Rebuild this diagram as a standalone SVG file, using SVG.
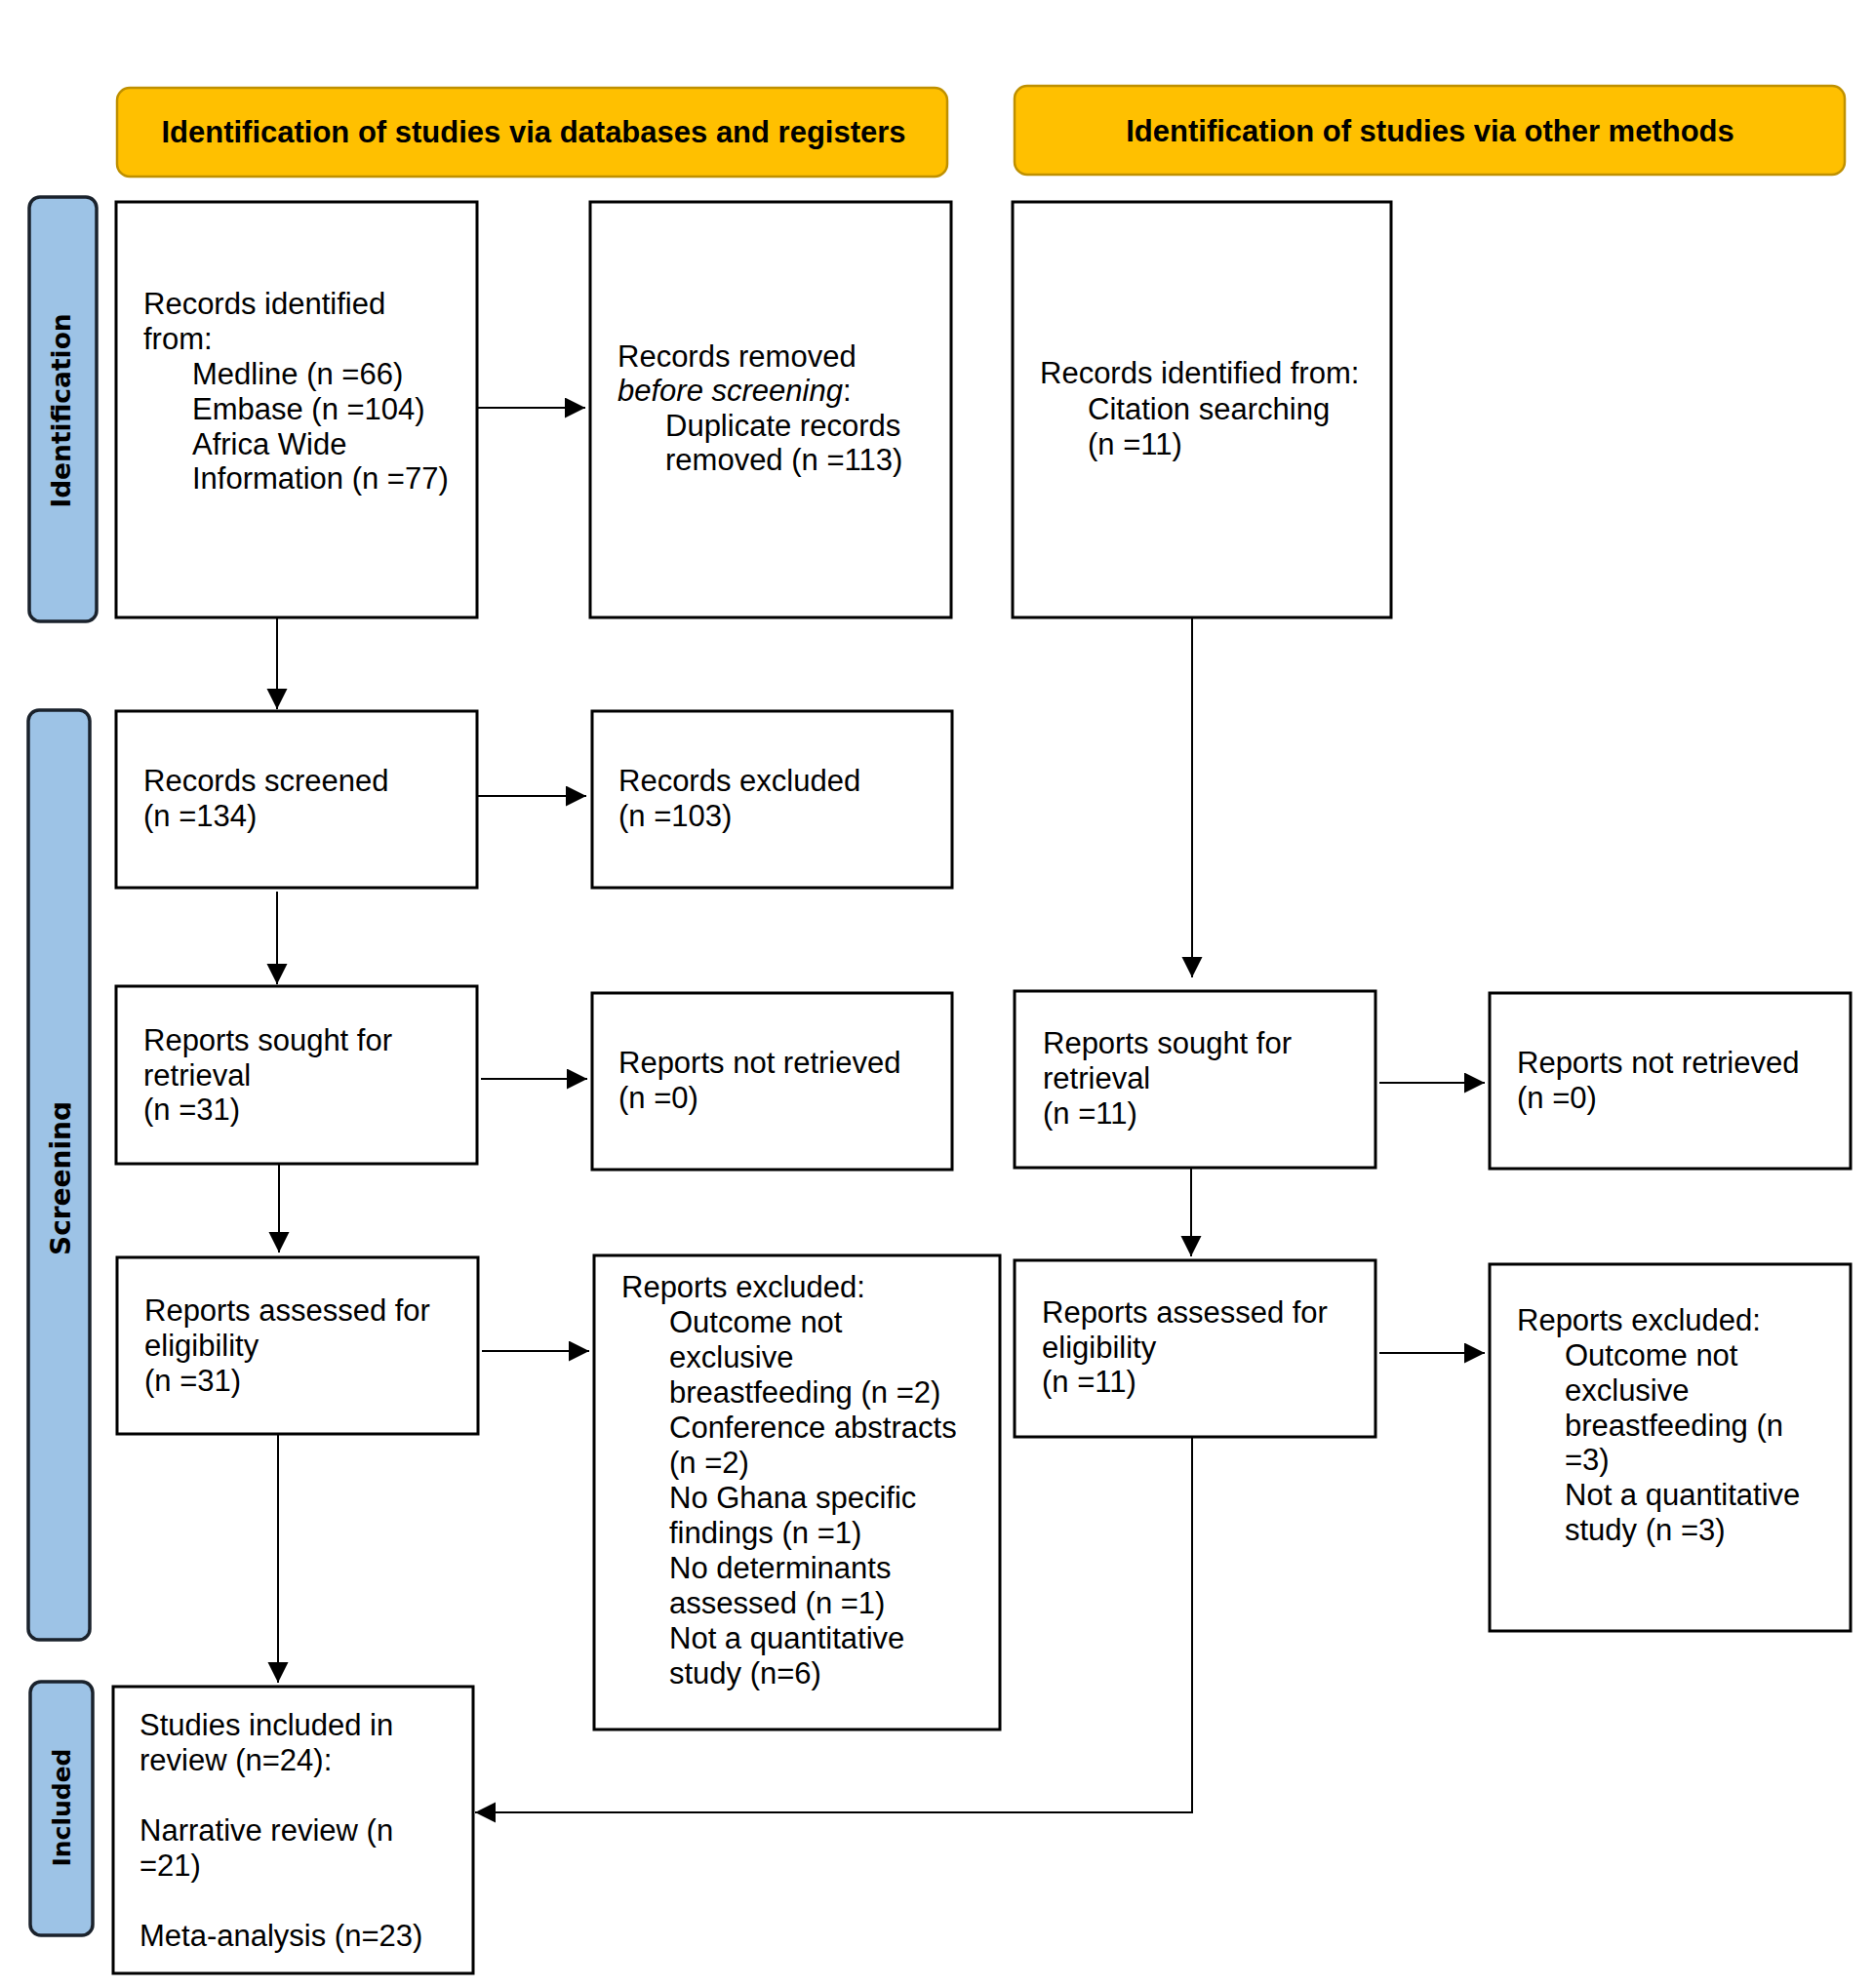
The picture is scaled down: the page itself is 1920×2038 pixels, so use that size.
<svg xmlns="http://www.w3.org/2000/svg" width="1920" height="2038" viewBox="0 0 1920 2038">
<defs>
<style>
.hdr{fill:#FFC000;stroke:#BF9000;stroke-width:2.5}
.hdrt{font-family:"Liberation Sans",Arial,sans-serif;font-weight:bold;font-size:31px;fill:#000;text-anchor:middle}
.side{fill:#9DC3E6;stroke:#1A222C;stroke-width:3.5}
.sidet{font-family:"DejaVu Sans",Verdana,sans-serif;font-weight:bold;font-size:28px;fill:#000;text-anchor:middle}
.box{fill:#fff;stroke:#000;stroke-width:3}
.t{font-family:"Liberation Sans",Arial,sans-serif;font-size:31px;fill:#000}
.con{fill:none;stroke:#000;stroke-width:2}
</style>
<marker id="ah" markerUnits="userSpaceOnUse" markerWidth="22" markerHeight="22" refX="21" refY="10.5" orient="auto">
<path d="M0,0 L21,10.5 L0,21 Z" fill="#000"/>
</marker>
<clipPath id="clipScr"><rect x="0" y="700" width="72.5" height="1000"/></clipPath>
</defs>
<rect width="1920" height="2038" fill="#fff"/>

<g id="header-databases">
<rect class="hdr" x="120" y="90" width="851" height="91" rx="13"/>
<text class="hdrt" x="547" y="146">Identification of studies via databases and registers</text>
</g>
<g id="header-other">
<rect class="hdr" x="1040" y="88" width="851" height="91" rx="13"/>
<text class="hdrt" x="1466" y="145">Identification of studies via other methods</text>
</g>

<g id="label-identification">
<rect class="side" x="30" y="202" width="69" height="435" rx="11"/>
<text class="sidet" style="font-size:26.5px" transform="translate(72,421) rotate(-90)">Identification</text>
</g>
<g id="label-screening">
<rect class="side" x="29" y="728" width="63" height="953" rx="11"/>
<g clip-path="url(#clipScr)"><text class="sidet" transform="translate(72,1208) rotate(-90)">Screening</text></g>
</g>
<g id="label-included">
<rect class="side" x="31" y="1724" width="64" height="260" rx="11"/>
<text class="sidet" style="font-size:25px" transform="translate(72,1853) rotate(-90)">Included</text>
</g>

<g id="records-identified">
<rect class="box" x="119" y="207" width="370" height="426"/>
<text class="t"><tspan x="147" y="322">Records identified</tspan><tspan x="147" y="358">from:</tspan><tspan x="197" y="394">Medline (n =66)</tspan><tspan x="197" y="430">Embase (n =104)</tspan><tspan x="197" y="466">Africa Wide</tspan><tspan x="197" y="501">Information (n =77)</tspan></text>
</g>
<g id="records-removed">
<rect class="box" x="605" y="207" width="370" height="426"/>
<text class="t"><tspan x="633" y="376">Records removed</tspan><tspan x="633" y="411"><tspan font-style="italic">before screening</tspan>:</tspan><tspan x="682" y="447">Duplicate records</tspan><tspan x="682" y="482">removed (n =113)</tspan></text>
</g>
<g id="records-other">
<rect class="box" x="1038" y="207" width="388" height="426"/>
<text class="t"><tspan x="1066" y="393">Records identified from:</tspan><tspan x="1115" y="430">Citation searching</tspan><tspan x="1115" y="466">(n =11)</tspan></text>
</g>
<g id="records-screened">
<rect class="box" x="119" y="729" width="370" height="181"/>
<text class="t"><tspan x="147" y="811">Records screened</tspan><tspan x="147" y="847">(n =134)</tspan></text>
</g>
<g id="records-excluded">
<rect class="box" x="607" y="729" width="369" height="181"/>
<text class="t"><tspan x="634" y="811">Records excluded</tspan><tspan x="634" y="847">(n =103)</tspan></text>
</g>
<g id="sought-db">
<rect class="box" x="119" y="1011" width="370" height="182"/>
<text class="t"><tspan x="147" y="1077">Reports sought for</tspan><tspan x="147" y="1113">retrieval</tspan><tspan x="147" y="1148">(n =31)</tspan></text>
</g>
<g id="notretrieved-db">
<rect class="box" x="607" y="1018" width="369" height="181"/>
<text class="t"><tspan x="634" y="1100">Reports not retrieved</tspan><tspan x="634" y="1136">(n =0)</tspan></text>
</g>
<g id="sought-other">
<rect class="box" x="1040" y="1016" width="370" height="181"/>
<text class="t"><tspan x="1069" y="1080">Reports sought for</tspan><tspan x="1069" y="1116">retrieval</tspan><tspan x="1069" y="1152">(n =11)</tspan></text>
</g>
<g id="notretrieved-other">
<rect class="box" x="1527" y="1018" width="370" height="180"/>
<text class="t"><tspan x="1555" y="1100">Reports not retrieved</tspan><tspan x="1555" y="1136">(n =0)</tspan></text>
</g>
<g id="assessed-db">
<rect class="box" x="120" y="1289" width="370" height="181"/>
<text class="t"><tspan x="148" y="1354">Reports assessed for</tspan><tspan x="148" y="1390">eligibility</tspan><tspan x="148" y="1426">(n =31)</tspan></text>
</g>
<g id="excluded-db">
<rect class="box" x="609" y="1287" width="416" height="486"/>
<text class="t"><tspan x="637" y="1330">Reports excluded:</tspan><tspan x="686" y="1366">Outcome not</tspan><tspan x="686" y="1402">exclusive</tspan><tspan x="686" y="1438">breastfeeding (n =2)</tspan><tspan x="686" y="1474">Conference abstracts</tspan><tspan x="686" y="1510">(n =2)</tspan><tspan x="686" y="1546">No Ghana specific</tspan><tspan x="686" y="1582">findings (n =1)</tspan><tspan x="686" y="1618">No determinants</tspan><tspan x="686" y="1654">assessed (n =1)</tspan><tspan x="686" y="1690">Not a quantitative</tspan><tspan x="686" y="1726">study (n=6)</tspan></text>
</g>
<g id="assessed-other">
<rect class="box" x="1040" y="1292" width="370" height="181"/>
<text class="t"><tspan x="1068" y="1356">Reports assessed for</tspan><tspan x="1068" y="1392">eligibility</tspan><tspan x="1068" y="1427">(n =11)</tspan></text>
</g>
<g id="excluded-other">
<rect class="box" x="1527" y="1296" width="370" height="376"/>
<text class="t"><tspan x="1555" y="1364">Reports excluded:</tspan><tspan x="1604" y="1400">Outcome not</tspan><tspan x="1604" y="1436">exclusive</tspan><tspan x="1604" y="1472">breastfeeding (n</tspan><tspan x="1604" y="1507">=3)</tspan><tspan x="1604" y="1543">Not a quantitative</tspan><tspan x="1604" y="1579">study (n =3)</tspan></text>
</g>
<g id="included">
<rect class="box" x="116" y="1729" width="369" height="294"/>
<text class="t"><tspan x="143" y="1779">Studies included in</tspan><tspan x="143" y="1815">review (n=24):</tspan><tspan x="143" y="1887">Narrative review (n</tspan><tspan x="143" y="1923">=21)</tspan><tspan x="143" y="1995">Meta-analysis (n=23)</tspan></text>
</g>

<g id="connectors">
<line class="con" x1="489" y1="418" x2="600" y2="418" marker-end="url(#ah)"/>
<line class="con" x1="284" y1="633" x2="284" y2="727" marker-end="url(#ah)"/>
<line class="con" x1="489" y1="816" x2="601" y2="816" marker-end="url(#ah)"/>
<line class="con" x1="284" y1="914" x2="284" y2="1009" marker-end="url(#ah)"/>
<line class="con" x1="493" y1="1106" x2="602" y2="1106" marker-end="url(#ah)"/>
<line class="con" x1="286" y1="1193" x2="286" y2="1284" marker-end="url(#ah)"/>
<line class="con" x1="494" y1="1385" x2="604" y2="1385" marker-end="url(#ah)"/>
<line class="con" x1="285" y1="1470" x2="285" y2="1725" marker-end="url(#ah)"/>
<line class="con" x1="1222" y1="633" x2="1222" y2="1002" marker-end="url(#ah)"/>
<line class="con" x1="1414" y1="1110" x2="1522" y2="1110" marker-end="url(#ah)"/>
<line class="con" x1="1221" y1="1197" x2="1221" y2="1288" marker-end="url(#ah)"/>
<line class="con" x1="1414" y1="1387" x2="1522" y2="1387" marker-end="url(#ah)"/>
<polyline class="con" points="1222,1473 1222,1858 487,1858" marker-end="url(#ah)"/>
</g>
</svg>
